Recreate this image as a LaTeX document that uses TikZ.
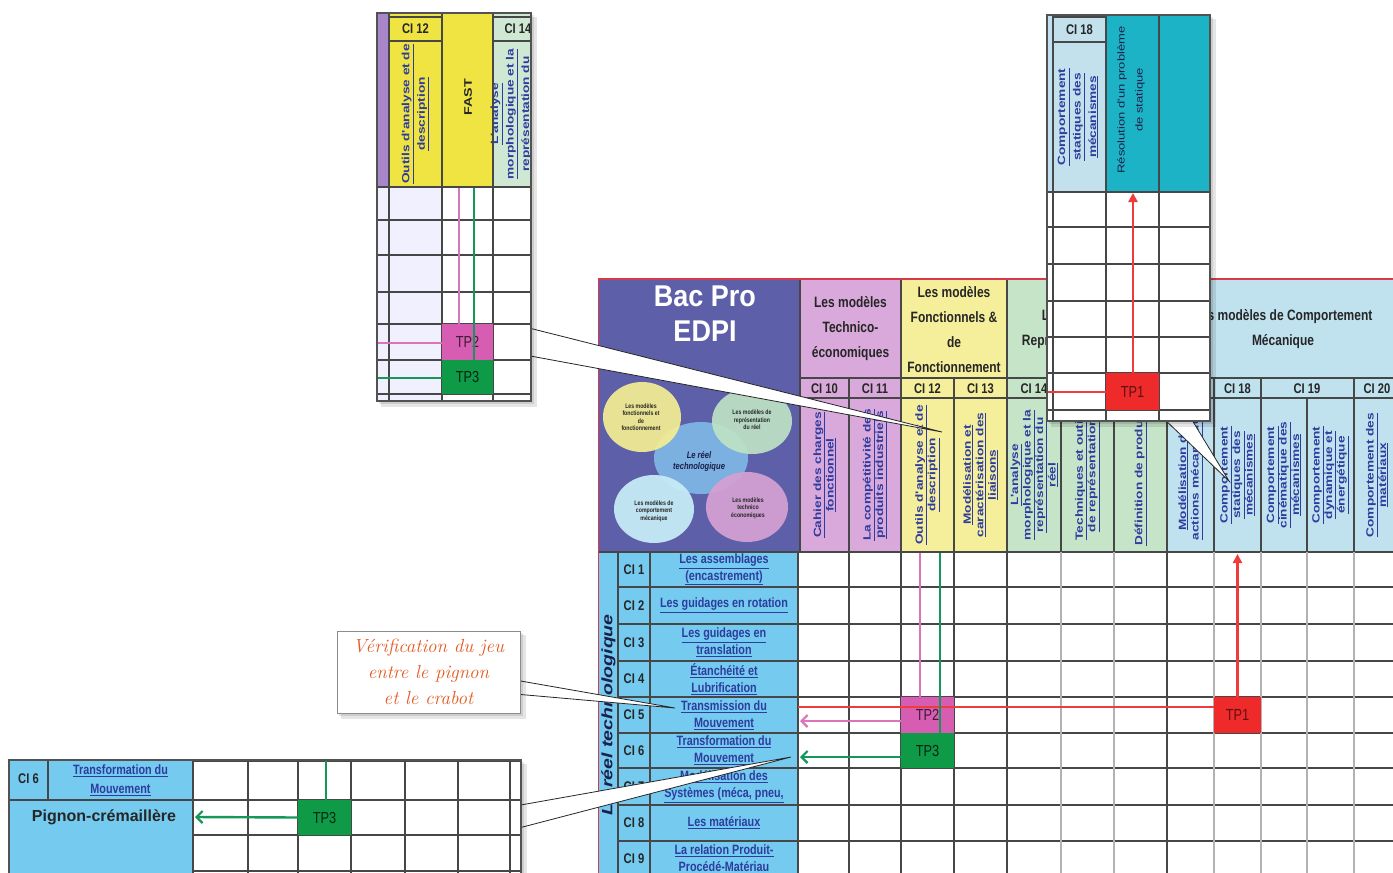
\documentclass[tikz,border=0pt]{standalone}
\usepackage{fontspec}
\newfontfamily\arialf{Liberation Sans}
\newfontfamily\condfont{Liberation Sans}[FakeStretch=0.8]
\newfontfamily\midfont{Liberation Sans}[FakeStretch=0.9]
\newfontfamily\widefont{Liberation Sans}[FakeStretch=1.3]
\usetikzlibrary{arrows.meta}

\newcommand{\fsz}[2]{\fontsize{#1}{#2}\selectfont}
\newcommand{\lk}[1]{\underline{#1}}

\definecolor{bacpro}{HTML}{5D60A8}
\definecolor{lilac}{HTML}{D8A9DA}
\definecolor{yelhdr}{HTML}{F5EF9C}
\definecolor{grnhdr}{HTML}{C6E5C8}
\definecolor{bluhdr}{HTML}{C0E2EE}
\definecolor{rowblue}{HTML}{74CBEF}
\definecolor{linkblue}{HTML}{2E3C9E}
\definecolor{tppink}{HTML}{D65DB1}
\definecolor{tpgreen}{HTML}{0F9A48}
\definecolor{tpred}{HTML}{EE2A2A}
\definecolor{lnpink}{HTML}{DA74BC}
\definecolor{lngreen}{HTML}{16975A}
\definecolor{lnred}{HTML}{EE3B3B}
\definecolor{tealc}{HTML}{1DB3C6}
\definecolor{inyel}{HTML}{F0E443}
\definecolor{inlilac}{HTML}{A886C9}
\definecolor{ingrn}{HTML}{CFE8D3}
\definecolor{inblue}{HTML}{C3E1EC}
\definecolor{orangetxt}{HTML}{E45A22}
\definecolor{borderred}{HTML}{D83A4A}
\definecolor{vyel}{HTML}{F3EE93}
\definecolor{vgrn}{HTML}{BDE2C6}
\definecolor{vcen}{HTML}{7BB0E0}
\definecolor{vcyan}{HTML}{C8EDF7}
\definecolor{vpink}{HTML}{D5A0D2}
\definecolor{navy}{HTML}{1B1F4A}

\begin{document}
\begin{tikzpicture}[x=1pt,y=-1pt,
  hdrline/.style={draw=black!72, line width=1.3pt},
  gridd/.style={draw=black!72, line width=1.7pt},
  gridl/.style={draw=black!30, line width=1.7pt},
  grptext/.style={font=\condfont\bfseries\fsz{15}{25}, align=center, text=black!85, inner sep=0},
  citext/.style={font=\condfont\bfseries\fsz{14}{16}, text=black!85, inner sep=0},
  vtext/.style={rotate=90, font=\widefont\bfseries\fsz{10.5}{12.5}, text=linkblue, align=center, inner sep=0},
  vtextbig/.style={rotate=90, font=\widefont\bfseries\fsz{10.5}{15.5}, text=linkblue, align=center, inner sep=0},
  rowtext/.style={font=\condfont\bfseries\fsz{13.5}{17}, text=linkblue, align=center, inner sep=0},
  tpbox/.style={inner sep=0, font=\condfont\fsz{16}{18}},
  vennlbl/.style={font=\condfont\bfseries\fsz{6.5}{7.5}, align=center, text=black!85, inner sep=0},
  wedge/.style={fill=white, draw=black!85, line width=0.8pt, line join=miter},
  insetframe/.style={draw=black!68, line width=1.8pt},
  shade1/.style={fill=black, opacity=0.1},
  pinkln/.style={draw=lnpink, line width=2.4pt},
  greenln/.style={draw=lngreen, line width=2.4pt},
  redln/.style={draw=lnred, line width=2.4pt},
  barb/.style={-{Straight Barb[length=6pt,width=12pt,line width=2.2pt]}},
  uptip/.style={-{Triangle[length=9pt,width=9pt]}}
]
\useasboundingbox (0,0) rectangle (1393,873);
\begin{scope}
\clip (0,0) rectangle (1393,873);
\fill[white] (0,0) rectangle (1393,873);

% ================= main competence table =================
% title block
\fill[bacpro] (598,279) rectangle (800,552);
\node[font=\midfont\bfseries\fsz{30}{35}, text=white, align=center, inner sep=0] (title) at (705,314) {Bac Pro\\EDPI};

% circles of the technological reality
\fill[vcen] (701,458) ellipse [x radius=47, y radius=36];
\fill[vyel, opacity=0.93] (642,417) ellipse [x radius=39, y radius=35];
\fill[vgrn, opacity=0.93] (752,421) ellipse [x radius=40, y radius=33];
\fill[vcyan, opacity=0.93] (654,509) ellipse [x radius=40, y radius=34];
\fill[vpink, opacity=0.93] (747,507) ellipse [x radius=41, y radius=35];
\node[vennlbl] (vf) at (641,417) {Les modèles\\fonctionnels et\\de\\fonctionnement};
\node[vennlbl] (vr) at (752,420) {Les modèles de\\représentation\\du réel};
\node[vennlbl] (vc) at (654,511) {Les modèles de\\comportement\\mécanique};
\node[vennlbl] (vt) at (748,508) {Les modèles\\technico\\économiques};
\node[font=\condfont\bfseries\itshape\fsz{9.5}{11}, text=navy, align=center, inner sep=0] (vreel) at (699,461) {Le réel\\technologique};

% header backgrounds
\fill[lilac] (800,279) rectangle (901,552);
\fill[yelhdr] (901,279) rectangle (1007,552);
\fill[grnhdr] (1007,279) rectangle (1167,552);
\fill[bluhdr] (1167,279) rectangle (1400,552);

% header rules
\draw[hdrline] (800,378) -- (1400,378);
\draw[hdrline] (800,398) -- (1400,398);
\foreach \x in {800,901,1007,1167} \draw[hdrline] (\x,279) -- (\x,552);
\foreach \x in {849,954,1061,1114,1214,1261,1354} \draw[hdrline] (\x,378) -- (\x,552);
\draw[hdrline] (1307,398) -- (1307,552);

% group titles
\node[grptext] (g1) at (850.5,329) {Les modèles\\Technico-\\économiques};
\node[grptext] (g2) at (954,329.5) {Les modèles\\Fonctionnels \&\\de\\Fonctionnement};
\node[grptext] (g3) at (1087,329) {Les modèles de\\Représentation du réel};
\node[grptext] (g4) at (1283,329) {Les modèles de Comportement\\Mécanique};

% CI numbers
\node[citext] (c10) at (824.5,388.5) {CI 10};
\node[citext] (c11) at (875,388.5) {CI 11};
\node[citext] (c12) at (927.5,388.5) {CI 12};
\node[citext] (c13) at (980.5,388.5) {CI 13};
\node[citext] (c14) at (1034,388.5) {CI 14};
\node[citext] (c15) at (1087.5,388.5) {CI 15};
\node[citext] (c16) at (1140.5,388.5) {CI 16};
\node[citext] (c17) at (1190.5,388.5) {CI 17};
\node[citext] (c18) at (1237.5,388.5) {CI 18};
\node[citext] (c19) at (1307,388.5) {CI 19};
\node[citext] (c20) at (1377,388.5) {CI 20};

% competence titles
\node[vtext] (t10) at (824.5,475) {\lk{Cahier des charges}\\\lk{fonctionnel}};
\node[vtext] (t11) at (875,475) {\lk{La compétitivité des}\\\lk{produits industriels}};
\node[vtext] (t12) at (927.5,475) {\lk{Outils d'analyse et de}\\\lk{description}};
\node[vtext] (t13) at (980.5,475) {\lk{Modélisation et}\\\lk{caractérisation des}\\\lk{liaisons}};
\node[vtext] (t14) at (1034,475) {\lk{L'analyse}\\\lk{morphologique et la}\\\lk{représentation du}\\\lk{réel}};
\node[vtext] (t15) at (1087.5,475) {\lk{Techniques et outils}\\\lk{de représentation}};
\node[vtext] (t16) at (1140.5,475) {\lk{Définition de produits}};
\node[vtext] (t17) at (1190.5,475) {\lk{Modélisation des}\\\lk{actions mécaniques}};
\node[vtext] (t18) at (1237.5,475) {\lk{Comportement}\\\lk{statiques des}\\\lk{mécanismes}};
\node[vtext] (t19a) at (1284,475) {\lk{Comportement}\\\lk{cinématique des}\\\lk{mécanismes}};
\node[vtext] (t19b) at (1330.5,475) {\lk{Comportement}\\\lk{dynamique et}\\\lk{énergétique}};
\node[vtext] (t20) at (1377,475) {\lk{Comportement des}\\\lk{matériaux}};

% row header
\fill[rowblue] (598,552) rectangle (798,880);
\foreach \y in {587,624,661,697,733,768,805,841} \draw[hdrline] (618,\y) -- (798,\y);
\draw[hdrline] (618,552) -- (618,880);
\draw[hdrline] (650,552) -- (650,880);
\draw[hdrline] (598,552) -- (1400,552);
\node[rotate=90, font=\widefont\bfseries\itshape\fsz{15}{17}, text=navy, inner sep=0] (reel) at (608.5,715) {Le réel technologique};

\node[citext] (r1) at (634,569.5) {CI 1};
\node[citext] (r2) at (634,605.5) {CI 2};
\node[citext] (r3) at (634,642.5) {CI 3};
\node[citext] (r4) at (634,679) {CI 4};
\node[citext] (r5) at (634,715) {CI 5};
\node[citext] (r6) at (634,750.5) {CI 6};
\node[citext] (r7) at (634,786.5) {CI 7};
\node[citext] (r8) at (634,823) {CI 8};
\node[citext] (r9) at (634,859) {CI 9};
\node[rowtext] (d1) at (724,569.5) {\lk{Les assemblages}\\\lk{(encastrement)}};
\node[rowtext] (d2) at (724,605.5) {\lk{Les guidages en rotation}};
\node[rowtext] (d3) at (724,642.5) {\lk{Les guidages en}\\\lk{translation}};
\node[rowtext] (d4) at (724,679) {\lk{Étanchéité et}\\\lk{Lubrification}};
\node[rowtext] (d5) at (724,715) {\lk{Transmission du}\\\lk{Mouvement}};
\node[rowtext] (d6) at (724,750.5) {\lk{Transformation du}\\\lk{Mouvement}};
\node[rowtext] (d7) at (724,786.5) {\lk{Modélisation des}\\\lk{Systèmes (méca, pneu,}};
\node[rowtext] (d8) at (724,823) {\lk{Les matériaux}};
\node[rowtext] (d9) at (724,859) {\lk{La relation Produit-}\\\lk{Procédé-Matériau}};

% activity grid
\foreach \y in {587,624,661,697,733,768,805,841} \draw[gridd] (798,\y) -- (1400,\y);
\foreach \x in {849,901,954,1007,1167} \draw[gridd] (\x,552) -- (\x,880);
\foreach \x in {1061,1114,1214,1261,1307,1354} \draw[gridl] (\x,552) -- (\x,880);
\draw[hdrline] (798,552) -- (798,880);

% table outline in red
\draw[borderred, line width=2.2pt] (598,279) -- (1400,279);
\draw[borderred, line width=1.4pt] (598.7,279) -- (598.7,880);

% practical works and their links
\node[tpbox, fill=tppink, text=black!70!tppink, minimum width=53pt, minimum height=36pt] (tp2) at (927.5,715) {TP2};
\node[tpbox, fill=tpgreen, text=black!75!tpgreen, minimum width=53pt, minimum height=35pt] (tp3) at (927.5,750.5) {TP3};
\node[tpbox, fill=tpred, text=black!60!tpred, minimum width=47pt, minimum height=36pt] (tp1) at (1237.5,715) {TP1};

\coordinate (pinktop) at (920,553);
\coordinate (greentop) at (940,553);
\coordinate (redleft) at (798,707);
\coordinate (redtop) at (1237.5,554);
\coordinate (pinkend) at (800,721);
\coordinate (greenend) at (800,757);
\draw[pinkln] (pinktop) -- (pinktop |- tp2.north);
\draw[redln] (redleft -| tp1.west) -- (redleft);
\draw[greenln] (greentop) -- (greentop |- tp3.north);
\draw[redln, uptip] (tp1.north) -- (redtop);
\draw[pinkln, barb] (pinkend -| tp2.west) -- (pinkend);
\draw[greenln, barb] (greenend -| tp3.west) -- (greenend);

% ================= callout wedges =================
\coordinate (w1a) at (525,327);
\coordinate (w1b) at (525,355);
\coordinate (w1tip) at (942,432);
\filldraw[wedge] (w1a) -- (w1tip) -- (w1b);
\coordinate (w2a) at (1160,415);
\coordinate (w2b) at (1189,415);
\coordinate (w2tip) at (1229,481);
\filldraw[wedge] (w2a) -- (w2tip) -- (w2b);
\coordinate (w3a) at (515,806);
\coordinate (w3b) at (515,829);
\coordinate (w3tip) at (791,757);
\filldraw[wedge] (w3a) -- (w3tip) -- (w3b);
\coordinate (w4a) at (515,680);
\coordinate (w4b) at (515,694);
\coordinate (w4tip) at (675,708);
\filldraw[wedge] (w4a) -- (w4tip) -- (w4b);

% ================= magnified view: CI 12 column =================
\fill[shade1] (381,17) rectangle (537,407);
\fill[shade1] (379,15) rectangle (534,404);
\begin{scope}
\clip (377,13) rectangle (531,401);
\fill[white] (377,13) rectangle (531,401);
\fill[inlilac] (377,13) rectangle (389,187);
\fill[inyel] (389,13) rectangle (493,187);
\fill[ingrn] (493,13) rectangle (531,187);
\fill[blue!6] (377,187) rectangle (442,401);
\draw[hdrline] (389,17) -- (442,17) (389,41) -- (442,41);
\draw[hdrline] (493,17) -- (531,17) (493,41) -- (531,41);
\node[citext] (ic12) at (415.5,29) {CI 12};
\node[citext] (ic14) at (518,29) {CI 14};
\node[vtextbig] (it12) at (415.5,114) {\lk{Outils d'analyse et de}\\\lk{description}};
\node[rotate=90, font=\widefont\bfseries\fsz{11}{13}, text=black!85, inner sep=0] (ifast) at (468,97) {FAST};
\node[vtextbig] (it14) at (512,114) {\lk{L'analyse}\\\lk{morphologique et la}\\\lk{représentation du}};
\foreach \y in {187,220,255,292,324,360,394} \draw[gridd] (377,\y) -- (531,\y);
\foreach \x in {389,442,493} \draw[gridd] (\x,13) -- (\x,401);
\node[tpbox, fill=tppink, text=black!70!tppink, minimum width=51pt, minimum height=36pt, text depth=0pt] (itp2) at (467.5,342) {TP2\hspace{14pt}};
\node[tpbox, fill=tpgreen, text=black!75!tpgreen, minimum width=51pt, minimum height=34pt] (itp3) at (467.5,377) {TP3};
\coordinate (ipinktop) at (459,188);
\coordinate (igreentop) at (474,188);
\coordinate (ipinkleft) at (377,343);
\coordinate (igreenleft) at (377,378);
\draw[pinkln] (ipinktop) -- (ipinktop |- itp2.north);
\draw[greenln] (igreentop) -- (igreentop |- itp3.north);
\draw[pinkln] (ipinkleft -| itp2.west) -- (ipinkleft);
\draw[greenln] (igreenleft -| itp3.west) -- (igreenleft);
\end{scope}
\draw[insetframe] (377,13) rectangle (531,401);

% ================= magnified view: CI 18 column =================
\fill[shade1] (1051,19) rectangle (1216,427);
\fill[shade1] (1049,17) rectangle (1213,424);
\begin{scope}
\clip (1047,15) rectangle (1210,421);
\fill[white] (1047,15) rectangle (1210,421);
\fill[inblue] (1047,15) rectangle (1106,192);
\fill[tealc] (1106,15) rectangle (1210,192);
\draw[hdrline] (1053,17) -- (1106,17) (1053,42) -- (1106,42);
\node[citext] (ic18) at (1079.5,29.5) {CI 18};
\node[vtextbig] (it18) at (1078,117) {\lk{Comportement}\\\lk{statiques des}\\\lk{mécanismes}};
\node[rotate=90, font=\widefont\fsz{10}{18}, text=navy, align=center, inner sep=0] (ires) at (1131,100) {Résolution d'un problème\\de statique};
\foreach \y in {192,227,264,301,337,373,410} \draw[gridd] (1047,\y) -- (1210,\y);
\draw[gridd] (1053,15) -- (1053,421);
\foreach \x in {1106,1159} \draw[gridd] (\x,15) -- (\x,421);
\node[tpbox, fill=tpred, text=black!60!tpred, minimum width=53pt, minimum height=37pt] (itp1) at (1132.5,391.5) {TP1};
\coordinate (iredtop) at (1133,193);
\coordinate (iredleft) at (1047,392);
\draw[redln, uptip] (itp1.north -| iredtop) -- (iredtop);
\draw[redln] (iredleft -| itp1.west) -- (iredleft);
\end{scope}
\draw[insetframe] (1047,15) rectangle (1210,421);

% ================= magnified view: CI 6 row =================
\fill[shade1] (13,764) rectangle (527,880);
\fill[shade1] (11,762) rectangle (524,880);
\begin{scope}
\clip (9,760) rectangle (521,880);
\fill[white] (9,760) rectangle (521,880);
\fill[rowblue] (9,760) rectangle (193,880);
\draw[hdrline] (48,760) -- (48,800);
\draw[gridd] (9,800) -- (521,800);
\foreach \y in {761,835,871} \draw[gridd] (193,\y) -- (521,\y);
\foreach \x in {193,248,298,351,405,458,510} \draw[gridd] (\x,760) -- (\x,880);
\node[citext] (bci6) at (28.5,779) {CI 6};
\node[rowtext, font=\condfont\bfseries\fsz{13.5}{19}] (bd6) at (120.5,780) {\lk{Transformation du}\\\lk{Mouvement}};
\node[font=\arialf\bfseries\fsz{16}{18}, text=black!85, inner sep=0] (bpc) at (104,817) {Pignon-crémaillère};
\node[tpbox, fill=tpgreen, text=black!75!tpgreen, minimum width=53pt, minimum height=35pt] (btp3) at (324.5,817.5) {TP3};
\coordinate (bgreentop) at (326,761);
\coordinate (bgreenend) at (195,817);
\draw[greenln] (bgreentop) -- (bgreentop |- btp3.north);
\draw[greenln, barb] (btp3.west) -- (bgreenend);
\end{scope}
\draw[insetframe] (9,760) rectangle (521,880);

% ================= comment box =================
\fill[shade1] (341,635) rectangle (526,719);
\fill[shade1] (339,633) rectangle (523,716);
\node[draw=black!45, line width=1pt, fill=white, minimum width=183pt, minimum height=82pt, inner sep=0,
      font=\normalfont\itshape\fsz{19}{26}, text=orangetxt, align=center] (note) at (428.5,672)
      {Vérification du jeu\\entre le pignon\\et le crabot};
\end{scope}
\end{tikzpicture}
\end{document}
